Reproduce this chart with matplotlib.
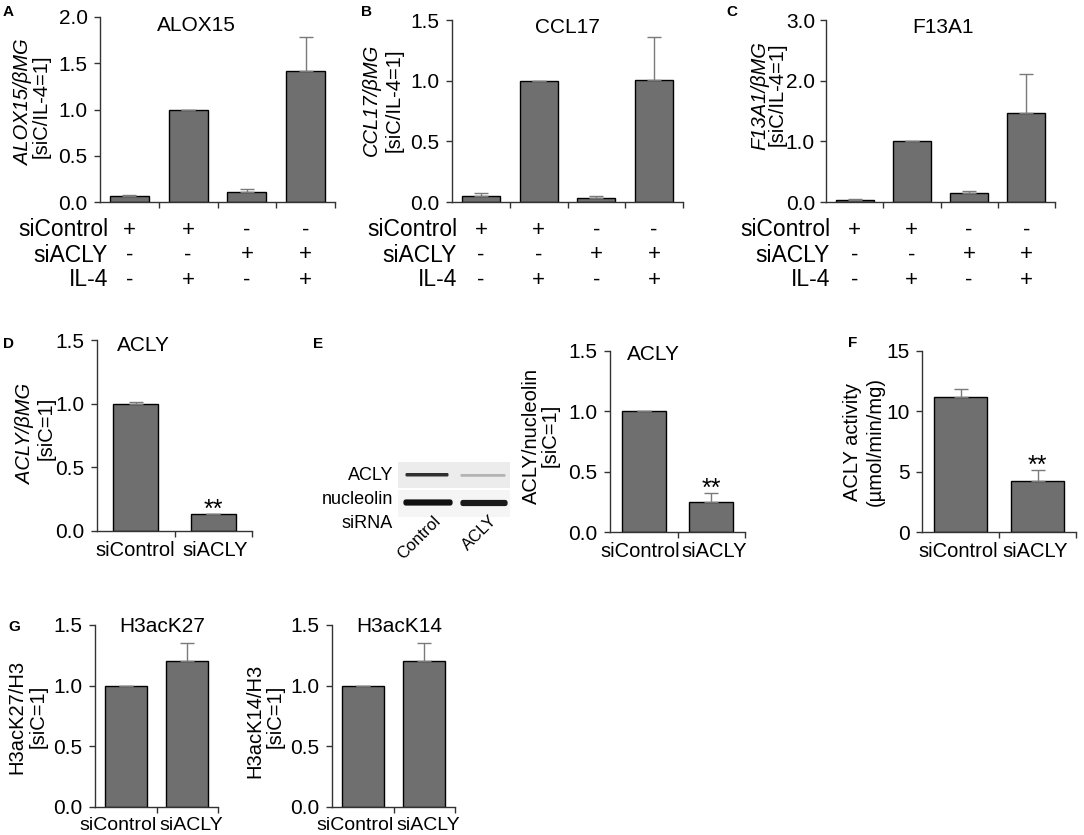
import matplotlib
matplotlib.use("Agg")
import matplotlib.pyplot as plt
from matplotlib.transforms import blended_transform_factory, ScaledTranslation
from matplotlib.patches import Rectangle, FancyBboxPatch
from matplotlib.ticker import FormatStrFormatter, FixedLocator

plt.rcParams['font.family'] = ['Liberation Sans', 'DejaVu Sans']

# ---------------- data ----------------
row_names = ["siControl", "siACLY", "IL-4"]
siControl_row = ["+", "+", "-", "-"]
siACLY_row = ["-", "-", "+", "+"]
il4_row = ["-", "+", "-", "+"]

alox15 = [0.065, 1.0, 0.105, 1.42]
alox15_err = [0.01, 0.0, 0.04, 0.36]
ccl17 = [0.053, 1.0, 0.036, 1.005]
ccl17_err = [0.025, 0.0, 0.011, 0.355]
f13a1 = [0.028, 1.0, 0.148, 1.46]
f13a1_err = [0.022, 0.0, 0.032, 0.655]

two_groups = ["siControl", "siACLY"]
acly_mrna = [1.0, 0.13]
acly_mrna_err = [0.01, 0.0]
acly_prot = [1.0, 0.25]
acly_prot_err = [0.0, 0.07]
acly_act = [11.2, 4.25]
acly_act_err = [0.65, 0.9]
h3k27 = [1.0, 1.2]
h3k27_err = [0.0, 0.15]
h3k14 = [1.0, 1.2]
h3k14_err = [0.0, 0.15]

W, H = 1084, 835
BAR = "#6f6f6f"
ERR = "#7a7a7a"
SP = "#333333"

fig = plt.figure(figsize=(W / 100, H / 100), dpi=100)

# overlay axes in pixel coordinates for free text and the blot
ov = fig.add_axes([0, 0, 1, 1])
ov.set_xlim(0, W)
ov.set_ylim(H, 0)
ov.axis("off")


def add_ax(x0, x1, y0, y1):
    return fig.add_axes([x0 / W, 1 - y1 / H, (x1 - x0) / W, (y1 - y0) / H])


def bar_panel(ax, vals, errs, ymax, yticks, fmt, width, xlabels=None,
              shifts=None, ypad=5, xfs=14.5):
    n = len(vals)
    xs = list(range(n))
    ax.bar(xs, vals, width=width, color=BAR, edgecolor="black", linewidth=1.0, zorder=2)
    ax.errorbar(xs, vals, yerr=[[0] * n, errs], fmt="none", ecolor=ERR,
                elinewidth=1.0, capsize=5, capthick=1.0, zorder=3)
    ax.set_xlim(-0.5, n - 0.5)
    ax.set_ylim(0, ymax)
    ax.yaxis.set_major_locator(FixedLocator(yticks))
    ax.yaxis.set_major_formatter(FormatStrFormatter(fmt))
    for s in ["top", "right"]:
        ax.spines[s].set_visible(False)
    for s in ["left", "bottom"]:
        ax.spines[s].set_color(SP)
        ax.spines[s].set_linewidth(1.0)
    ax.set_facecolor("none")
    ax.tick_params(axis="y", direction="out", length=4, width=1, color=SP,
                   labelsize=15, pad=ypad)
    ax.set_xticks([i - 0.5 for i in range(1, n + 1)], minor=True)
    ax.tick_params(axis="x", which="minor", direction="out", length=4, width=1, color=SP)
    ax.set_xticks(xs)
    if xlabels is not None:
        ax.set_xticklabels(xlabels, fontsize=xfs)
        ax.tick_params(axis="x", which="major", length=0, pad=7)
        if shifts is not None:
            for lab, dx in zip(ax.get_xticklabels(), shifts):
                lab.set_transform(lab.get_transform() +
                                  ScaledTranslation(dx / 100, 0, fig.dpi_scale_trans))
    else:
        ax.set_xticklabels([])
        ax.tick_params(axis="x", which="major", length=0)


def row_table(ax, x_label_px):
    tr = blended_transform_factory(ax.transData, ov.transData)
    rows = [siControl_row, siACLY_row, il4_row]
    ys = [230, 255, 280]
    for name, row, y in zip(row_names, rows, ys):
        ov.text(x_label_px, y, name, ha="right", va="center", fontsize=16.5)
        for i, s in enumerate(row):
            ax.text(i, y, s, transform=tr, ha="center", va="center", fontsize=16)


def ylab(x1, y1, s1, x2, y2, s2, italic_first=False):
    ov.text(x1, y1, s1, rotation=90, ha="center", va="center", fontsize=14.5,
            style="italic" if italic_first else "normal")
    ov.text(x2, y2, s2, rotation=90, ha="center", va="center", fontsize=14.5)


def title(ax, xa, ya, s):
    ax.text(xa, ya, s, transform=ax.transAxes, ha="center", va="center", fontsize=15)


def stars(ax, x, y):
    ax.annotate("**", (x, y), xytext=(0, -2), textcoords="offset points",
                ha="center", va="baseline", fontsize=18)


# ---------------- A ----------------
axA = add_ax(100, 335, 17, 202)
bar_panel(axA, alox15, alox15_err, 2.0, [0, 0.5, 1.0, 1.5, 2.0], "%.1f", 0.66)
title(axA, 0.41, 0.955, "ALOX15")
row_table(axA, 108)
ylab(24, 102, "ALOX15/βMG", 41, 106, "[siC/IL-4=1]", True)

# ---------------- B ----------------
axB = add_ax(452, 683, 20, 202)
bar_panel(axB, ccl17, ccl17_err, 1.5, [0, 0.5, 1.0, 1.5], "%.1f", 0.66)
title(axB, 0.50, 0.96, "CCL17")
row_table(axB, 457)
ylab(371, 100, "CCL17/βMG", 394, 100, "[siC/IL-4=1]", True)

# ---------------- C ----------------
axC = add_ax(826, 1055, 20, 202)
bar_panel(axC, f13a1, f13a1_err, 3.0, [0, 1.0, 2.0, 3.0], "%.1f", 0.66, ypad=4)
title(axC, 0.51, 0.96, "F13A1")
row_table(axC, 830)
ylab(760, 96, "F13A1/βMG", 777, 94, "[siC/IL-4=1]", True)

# ---------------- D ----------------
axD = add_ax(97, 252, 340, 531)
bar_panel(axD, acly_mrna, acly_mrna_err, 1.5, [0, 0.5, 1.0, 1.5], "%.1f", 0.58,
          two_groups, shifts=[-1, 2])
title(axD, 0.30, 0.97, "ACLY")
stars(axD, 1, acly_mrna[1] + acly_mrna_err[1])
ylab(26, 434, "ACLY/βMG", 46, 428, "[siC=1]", True)

# ---------------- E ----------------
axE = add_ax(610, 745, 351, 532)
bar_panel(axE, acly_prot, acly_prot_err, 1.5, [0, 0.5, 1.0, 1.5], "%.1f", 0.65,
          two_groups, shifts=[-4, 3])
title(axE, 0.32, 0.98, "ACLY")
stars(axE, 1, acly_prot[1] + acly_prot_err[1])
ylab(531, 436, "ACLY/nucleolin", 550, 435, "[siC=1]")

# western blot (schematic)
ov.add_patch(Rectangle((398, 462), 112, 26, facecolor="#ececec", edgecolor="none"))
ov.add_patch(Rectangle((398, 490), 112, 27, facecolor="#f5f5f5", edgecolor="none"))
ov.add_patch(FancyBboxPatch((406, 473.5), 42, 2.5, boxstyle="round,pad=0.5,rounding_size=1.2",
                            facecolor="#303030", edgecolor="none"))
ov.add_patch(FancyBboxPatch((461, 474.5), 44, 1.8, boxstyle="round,pad=0.5,rounding_size=0.9",
                            facecolor="#b4b4b4", edgecolor="none"))
ov.add_patch(FancyBboxPatch((404, 500), 48, 5, boxstyle="round,pad=0.6,rounding_size=2.5",
                            facecolor="#111111", edgecolor="none"))
ov.add_patch(FancyBboxPatch((461, 500.5), 46, 5, boxstyle="round,pad=0.6,rounding_size=2.5",
                            facecolor="#1a1a1a", edgecolor="none"))
ov.text(393, 475, "ACLY", ha="right", va="center", fontsize=13)
ov.text(393, 500, "nucleolin", ha="right", va="center", fontsize=13)
ov.text(393, 523, "siRNA", ha="right", va="center", fontsize=13)
ov.text(419, 538, "Control", rotation=45, ha="center", va="center", fontsize=12)
ov.text(480, 533, "ACLY", rotation=45, ha="center", va="center", fontsize=12)

# ---------------- F ----------------
axF = add_ax(922, 1076, 351, 532)
bar_panel(axF, acly_act, acly_act_err, 15, [0, 5, 10, 15], "%d", 0.69,
          two_groups, shifts=[-2, -2])
stars(axF, 1, acly_act[1] + acly_act_err[1])
ylab(853, 442, "ACLY activity", 875, 442, "(µmol/min/mg)")

# ---------------- G ----------------
axG1 = add_ax(95, 218, 625, 807)
bar_panel(axG1, h3k27, h3k27_err, 1.5, [0, 0.5, 1.0, 1.5], "%.1f", 0.68,
          two_groups, shifts=[-8, 4], xfs=14)
title(axG1, 0.55, 0.99, "H3acK27")
ylab(17, 717, "H3acK27/H3", 38, 716, "[siC=1]")

axG2 = add_ax(332, 455, 625, 807)
bar_panel(axG2, h3k14, h3k14_err, 1.5, [0, 0.5, 1.0, 1.5], "%.1f", 0.68,
          two_groups, shifts=[-8, 4], xfs=14)
title(axG2, 0.55, 0.99, "H3acK14")
ylab(255, 721, "H3acK14/H3", 275, 716, "[siC=1]")

# panel letters
for (x, y, s) in [(8, 12, "A"), (366, 12, "B"), (732, 12, "C"), (9, 344, "D"),
                  (318, 344, "E"), (853, 343, "F"), (14, 627, "G")]:
    ov.text(x, y, s, ha="center", va="center", fontsize=11, fontweight="bold")

fig.savefig("out.png", dpi=100)
